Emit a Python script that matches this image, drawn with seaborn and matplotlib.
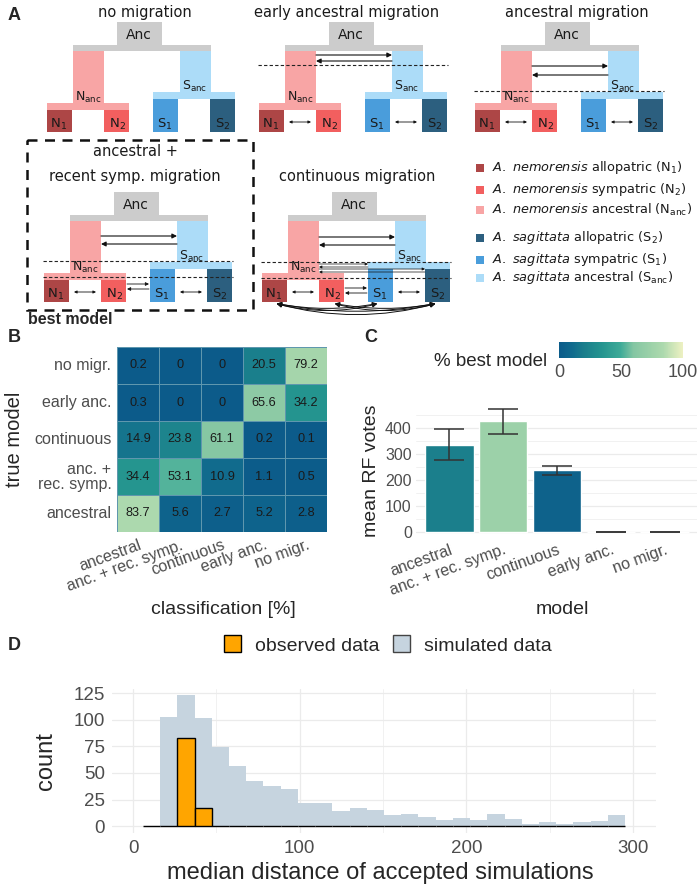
import numpy as np
import pandas as pd
import matplotlib
matplotlib.use("Agg")
import matplotlib.pyplot as plt
import seaborn as sns
from matplotlib.colors import LinearSegmentedColormap, Normalize
from matplotlib.patches import Rectangle, FancyArrowPatch, Patch
from matplotlib.cm import ScalarMappable

# ---------------- data ----------------
models = ["ancestral", "anc. + rec. symp.", "continuous", "early anc.", "no migr."]
true_models = ["no migr.", "early anc.", "continuous", "anc. +\nrec. symp.", "ancestral"]
conf_no_migr = [0.2, 0, 0, 20.5, 79.2]
conf_early = [0.3, 0, 0, 65.6, 34.2]
conf_cont = [14.9, 23.8, 61.1, 0.2, 0.1]
conf_anc_rec = [34.4, 53.1, 10.9, 1.1, 0.5]
conf_anc = [83.7, 5.6, 2.7, 5.2, 2.8]

rf_mean = [335, 425, 237, 0, 0]
rf_low = [278, 376, 220, 0, 0]
rf_high = [395, 472, 255, 0, 0]
pct_best = [21, 74, 5, 0, 0]

sim_counts = [0, 103, 123, 102, 74, 57, 42, 38, 35, 22, 22, 14, 17, 15, 10,
              11, 9, 6, 8, 6, 11, 7, 2, 4, 2, 4, 5, 10]
obs_counts = [0, 0, 83, 17, 0, 0, 0, 0, 0, 0, 0, 0, 0, 0, 0,
              0, 0, 0, 0, 0, 0, 0, 0, 0, 0, 0, 0, 0]
bin_start, bin_width = 5.9, 10.33

pop_names = ["A. nemorensis", "A. nemorensis", "A. nemorensis",
             "A. sagittata", "A. sagittata", "A. sagittata"]
pop_kinds = ["allopatric (N$_{1}$)", "sympatric (N$_{2}$)", "ancestral (N$_{anc}$)",
             "allopatric (S$_{2}$)", "sympatric (S$_{1}$)", "ancestral (S$_{anc}$)"]

# ---------------- style ----------------
C_N1, C_N2, C_NANC = "#ad4646", "#f25f5f", "#f8a5a5"
C_S2, C_S1, C_SANC = "#2c5f7f", "#4a9ddb", "#acdcf8"
C_ANC = "#cccccc"
pop_colors = [C_N1, C_N2, C_NANC, C_S2, C_S1, C_SANC]
GRID = "#ebebeb"
TICK = "#4d4d4d"
GG = "Liberation Sans"

cmap = LinearSegmentedColormap.from_list("bestmodel", [
    (0.00, "#0c5b8a"), (0.10, "#106a8d"), (0.20, "#1a7e8c"), (0.34, "#24948f"),
    (0.50, "#3fab98"), (0.60, "#84c6a3"), (0.80, "#a6d6ab"), (0.84, "#acd9ae"),
    (1.00, "#eef1c2")])

sns.set_style("white")
plt.rcParams["font.family"] = ["DejaVu Sans"]
plt.rcParams["mathtext.default"] = "regular"

fig = plt.figure(figsize=(7, 8.9), dpi=100)

# overlay axes in pixel coordinates for panel A and free text
ax0 = fig.add_axes([0, 0, 1, 1])
ax0.set_xlim(0, 700)
ax0.set_ylim(890, 0)
ax0.axis("off")


def rect(x0, y0, x1, y1, color):
    ax0.add_patch(Rectangle((x0, y0), x1 - x0, y1 - y0, color=color, lw=0, zorder=1))


def arrow(x0, x1, y, style="-|>", ms=7, lw=0.8):
    ax0.annotate("", xy=(x1, y), xytext=(x0, y),
                 arrowprops=dict(arrowstyle=style, lw=lw, color="#111111",
                                 mutation_scale=ms, shrinkA=0, shrinkB=0), zorder=4)


def tree(L, T, anc=None, dash=(), small=True, sym=None, cont=False):
    rect(L + 70, T + 22, L + 115, T + 46, C_ANC)
    rect(L + 26, T + 45, L + 164, T + 51, C_ANC)
    rect(L + 26, T + 51, L + 57, T + 104, C_NANC)
    rect(L, T + 103, L + 82, T + 110, C_NANC)
    rect(L, T + 110, L + 25, T + 132, C_N1)
    rect(L + 57, T + 110, L + 82, T + 132, C_N2)
    rect(L + 133, T + 51, L + 164, T + 93, C_SANC)
    rect(L + 106, T + 92, L + 188, T + 99, C_SANC)
    rect(L + 106, T + 99, L + 131, T + 132, C_S1)
    rect(L + 163, T + 99, L + 188, T + 132, C_S2)
    tk = dict(ha="center", va="center", color="#1a1a1a", zorder=5)
    ax0.text(L + 92, T + 35, "Anc", fontsize=10, **tk)
    ax0.text(L + 41, T + 97, "N$_{anc}$", fontsize=9, **tk)
    ax0.text(L + 148, T + 86, "S$_{anc}$", fontsize=9, **tk)
    for x, lab in [(12, "N$_{1}$"), (70, "N$_{2}$"), (118, "S$_{1}$"), (176, "S$_{2}$")]:
        ax0.text(L + x, T + 124, lab, fontsize=9.5, **tk)
    if anc is not None:
        arrow(L + 57, L + 133, T + anc[0])
        arrow(L + 133, L + 57, T + anc[1])
    for y in dash:
        ax0.plot([L - 1, L + 189], [T + y, T + y], ls=(0, (3, 2)), color="#222222",
                 lw=0.8, zorder=3)
    if small:
        arrow(L + 30, L + 52, T + 122, style="<|-|>", ms=4, lw=0.6)
        arrow(L + 136, L + 158, T + 122, style="<|-|>", ms=4, lw=0.6)
    if sym is not None:
        arrow(L + 83, L + 105, T + sym[0], ms=5, lw=0.6)
        arrow(L + 105, L + 83, T + sym[1], ms=5, lw=0.6)
    if cont:
        arrow(L + 57, L + 106, T + 94, ms=4, lw=0.5)
        arrow(L + 106, L + 57, T + 97, ms=4, lw=0.5)
        arrow(L + 57, L + 163, T + 99, ms=4, lw=0.5)
        arrow(L + 163, L + 57, T + 102, ms=4, lw=0.5)
        for a, b in [(12, 118), (12, 176), (70, 176)]:
            for rad in (0.10, 0.14):
                ax0.add_patch(FancyArrowPatch((L + a, T + 133), (L + b, T + 133),
                                              connectionstyle=f"arc3,rad={rad}",
                                              arrowstyle="<|-|>", mutation_scale=7,
                                              lw=0.7, color="#111111", zorder=4))


tt = dict(ha="center", va="center", fontsize=10.5, color="#1a1a1a")
ax0.text(145, 12, "no migration", **tt)
ax0.text(347, 12, "early ancestral migration", **tt)
ax0.text(577, 12, "ancestral migration", **tt)
ax0.text(135, 152, "ancestral +", **tt)
ax0.text(135, 177, "recent symp. migration", **tt)
ax0.text(357, 177, "continuous migration", **tt)

tree(47, 0, anc=None, dash=(), small=False)
tree(259, 0, anc=(55, 61), dash=(65,))
tree(475, 0, anc=(66, 75), dash=(91,))
tree(44, 170, anc=(66, 74), dash=(91, 107), sym=(114, 119))
tree(262, 170, anc=(67, 75), dash=(92, 108), sym=(118, 123), cont=True)

ax0.add_patch(Rectangle((27, 140), 226, 170, fill=False, ec="#111111", lw=1.8,
                        ls=(0, (4, 3)), zorder=6))
ax0.text(28, 320, "best model", fontsize=11.5, fontweight="bold", family=GG,
         ha="left", va="center")

for i, (yc, name, kind, col) in enumerate(zip([168, 190, 210, 238, 260, 278],
                                              pop_names, pop_kinds, pop_colors)):
    rect(476, yc - 4, 484, yc + 4, col)
    ax0.text(492, yc, "$\\mathit{" + name.replace(" ", "\\ ") + "}$ " + kind,
             fontsize=9.3, ha="left", va="center", color="#1a1a1a")

for x, y, s in [(8, 16, "A"), (8, 337, "B"), (364, 337, "C"), (8, 645, "D")]:
    ax0.text(x, y, s, fontsize=13, fontweight="bold", family=GG, ha="left", va="center")

# ---------------- panel B ----------------
conf_df = pd.DataFrame([conf_no_migr, conf_early, conf_cont, conf_anc_rec, conf_anc],
                       index=true_models, columns=models)
annot = conf_df.map(lambda v: f"{v:g}")
ax_b = fig.add_axes([117 / 700, 1 - 532 / 890, 210 / 700, 185 / 890])
sns.heatmap(conf_df, ax=ax_b, cmap=cmap, vmin=0, vmax=100, annot=annot, fmt="",
            cbar=False, linewidths=0.5, linecolor="#5f97ae",
            annot_kws=dict(fontsize=9.2, color="#1a1a1a", family=GG))
ax_b.tick_params(length=0, pad=4)
ax_b.set_yticklabels(true_models, rotation=0, ha="right", fontsize=11.5, color=TICK,
                     family=GG, linespacing=1.0)
ax_b.set_xticklabels(models, rotation=20, ha="right", rotation_mode="anchor",
                     fontsize=11.5, color=TICK, family=GG)
ax_b.set_xlabel("classification [%]", fontsize=14, family=GG, va="center")
ax_b.set_ylabel("true model", fontsize=14.5, family=GG, va="center")
ax_b.xaxis.set_label_coords(0.505, -0.42)
ax_b.yaxis.set_label_coords((15 - 117) / 210, 0.5)

# ---------------- panel C ----------------
bar_df = pd.DataFrame({"model": models, "votes": rf_mean, "low": rf_low,
                       "high": rf_high, "pct": pct_best})
bar_colors = [cmap(p / 100) for p in bar_df["pct"]]
ax_c = fig.add_axes([416 / 700, 1 - 538 / 890, 281 / 700, 135 / 890])
sns.barplot(data=bar_df, x="model", y="votes", hue="model", palette=bar_colors,
            width=0.9, saturation=1, errorbar=None, legend=False, ax=ax_c, zorder=2)
ax_c.errorbar(x=np.arange(len(bar_df)), y=bar_df["votes"],
              yerr=[bar_df["votes"] - bar_df["low"], bar_df["high"] - bar_df["votes"]],
              fmt="none", ecolor="#333333", elinewidth=1.1, capsize=10.5, capthick=1.1,
              zorder=3)
ax_c.set_xlim(-0.62, 4.6)
ax_c.set_ylim(-23, 496)
ax_c.set_yticks([0, 100, 200, 300, 400])
ax_c.set_yticks([50, 150, 250, 350, 450], minor=True)
ax_c.grid(axis="y", which="major", color=GRID, lw=0.9)
ax_c.grid(axis="y", which="minor", color=GRID, lw=0.5)
ax_c.grid(axis="x", visible=False)
ax_c.set_axisbelow(True)
sns.despine(ax=ax_c, left=True, bottom=True)
ax_c.tick_params(which="both", length=0, pad=3)
ax_c.set_xticks(range(len(models)))
ax_c.set_xticklabels(models, rotation=20, ha="right", rotation_mode="anchor",
                     fontsize=11.5, color=TICK, family=GG)
for t in ax_c.get_yticklabels():
    t.set_fontsize(11.5)
    t.set_color(TICK)
    t.set_family(GG)
ax_c.set_xlabel("model", fontsize=14, family=GG, va="center")
ax_c.set_ylabel("mean RF votes", fontsize=14, family=GG, va="center")
ax_c.xaxis.set_label_coords(0.52, -0.533)
ax_c.yaxis.set_label_coords((372 - 416) / 281, 0.5)

cax = fig.add_axes([559 / 700, 1 - 358 / 890, 124 / 700, 16 / 890])
cb = fig.colorbar(ScalarMappable(norm=Normalize(0, 100), cmap=cmap), cax=cax,
                  orientation="horizontal", ticks=[0, 50, 100])
cb.outline.set_visible(False)
cax.tick_params(length=0, pad=4, labelsize=13, labelcolor=TICK)
for t in cax.get_xticklabels():
    t.set_family(GG)
ax0.text(547, 362, "% best model", fontsize=13.5, family=GG, ha="right", va="center")

# ---------------- panel D ----------------
bin_edges = list(bin_start + bin_width * np.arange(len(sim_counts) + 1))
hist_df = pd.DataFrame({"mid": np.array(bin_edges[:-1]) + bin_width / 2,
                        "sim": sim_counts, "obs": obs_counts})
ax_d = fig.add_axes([112 / 700, 1 - 833 / 890, 544 / 700, 144 / 890])
sns.histplot(data=hist_df, x="mid", weights="sim", bins=bin_edges, color="#c6d4df",
             alpha=1, edgecolor="none", linewidth=0, ax=ax_d)
sns.histplot(data=hist_df, x="mid", weights="obs", bins=bin_edges, color="#ffa500",
             alpha=1, edgecolor="black", linewidth=1, ax=ax_d)
ax_d.set_xlim(-12.6, 313.7)
ax_d.set_ylim(-6.5, 129)
ax_d.set_xticks([0, 100, 200, 300])
ax_d.set_xticks([50, 150, 250], minor=True)
ax_d.set_yticks([0, 25, 50, 75, 100, 125])
ax_d.grid(which="major", color=GRID, lw=0.9)
ax_d.grid(which="minor", color=GRID, lw=0.5)
ax_d.set_axisbelow(True)
sns.despine(ax=ax_d, left=True, bottom=True)
ax_d.tick_params(which="both", length=0, pad=5)
for t in ax_d.get_xticklabels() + ax_d.get_yticklabels():
    t.set_fontsize(13.5)
    t.set_color(TICK)
    t.set_family(GG)
ax_d.set_xlabel("median distance of accepted simulations", fontsize=17, family=GG,
                va="center")
ax_d.set_ylabel("count", fontsize=17, family=GG, va="center")
ax_d.xaxis.set_label_coords(0.494, (833 - 873) / 144)
ax_d.yaxis.set_label_coords((46 - 112) / 544, 0.5)

handles = [Patch(fc="#ffa500", ec="black", lw=1, label="observed data"),
           Patch(fc="#c6d4df", ec="#444444", lw=1, label="simulated data")]
leg = fig.legend(handles=handles, loc="center", bbox_to_anchor=(388 / 700, 1 - 645 / 890),
                 ncol=2, frameon=False, handlelength=0.85, handleheight=0.95,
                 columnspacing=0.72, handletextpad=0.72,
                 prop=dict(family=GG, size=14))

fig.savefig("out.png", dpi=100)
